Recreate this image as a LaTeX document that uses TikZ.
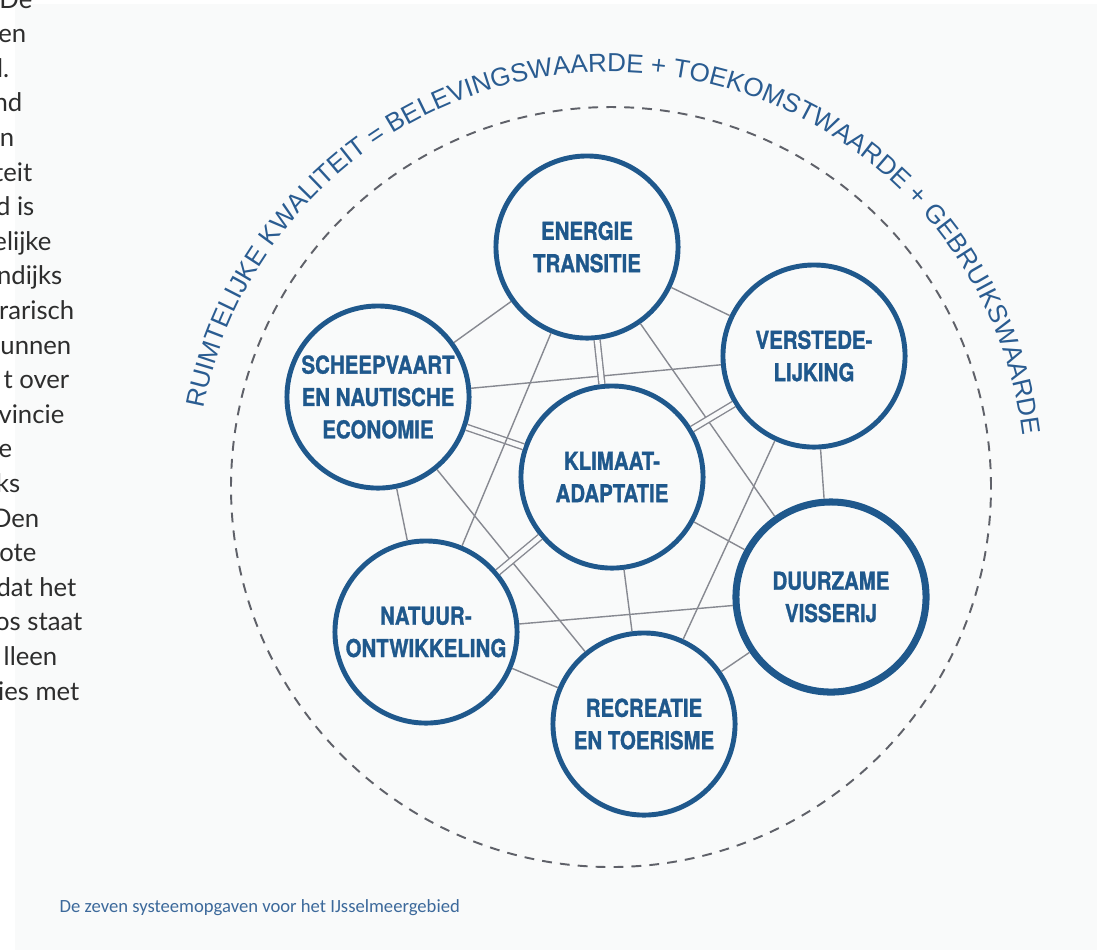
\documentclass[tikz,border=0pt]{standalone}
\usepackage{fontspec}
\setmainfont{Liberation Sans}
\newfontfamily\circfont[FakeStretch=0.83,FakeBold=1.2]{TeX Gyre Heros}
\newfontfamily\arcfont{Liberation Sans}
\newfontfamily\bodyfont{Lato}
\newfontfamily\capfont{Carlito}
\usetikzlibrary{decorations.text}
\definecolor{ringblue}{RGB}{31,88,140}
\definecolor{arcblue}{RGB}{42,92,145}
\definecolor{capblue}{RGB}{60,105,155}
\definecolor{linkgray}{RGB}{135,137,145}
\definecolor{ringgray}{RGB}{95,97,105}
\definecolor{paper}{RGB}{249,250,250}
\definecolor{inkgray}{RGB}{45,45,45}

\begin{document}
\begin{tikzpicture}[
  x=0.01cm, y=0.01cm,
  task/.style={
    circle, draw=ringblue, line width=1.4pt, fill=paper,
    minimum size=1.82cm, inner sep=0pt, align=center, text=ringblue,
    font=\circfont\bfseries\fontsize{7}{9.2}\selectfont
  },
  link/.style={draw=linkgray, line width=0.4pt},
  twin/.style={link, double=paper, double distance=1.3pt},
  dashring/.style={draw=ringgray, line width=0.55pt, dash pattern=on 2.8pt off 2.3pt},
  frag/.style={anchor=base east, inner sep=0pt, text=inkgray,
    font=\bodyfont\fontsize{7.3}{9}\selectfont}
]
\useasboundingbox (0,0) rectangle (1097,-950);
\fill[white] (0,0) rectangle (1097,-950);
\fill[paper] (15,-4) rectangle (1097,-950);

% cut-off column of the page text
\begin{scope}
\clip (0,0) rectangle (1097,-950);
\foreach \txt/\xe [count=\i] in {De/33, en/27, l./10, nd/23, an/15, teit/33,
    d is/35, elijke/52, ndijks/63, rarisch/75, unnen/72, t over/70,
    vincie/65, e/13, ks/21, Den/40, ote/37, dat het/77, os staat/83,
    lleen/58, ies met/80}
{
  \pgfmathsetmacro{\yb}{-(8+34.6*(\i-1))}
  \node (frag\i) [frag] at (\xe,\yb) {\txt};
}
\end{scope}

% outer ring and its title
\coordinate (mid) at (611,-487);
\draw[dashring] (mid) circle[radius=380];
\path[decorate, decoration={text along path, text align=center,
    text={|\arcfont\fontsize{7.4}{9}\selectfont\color{arcblue}|RUIMTELIJKE KWALITEIT = BELEVINGSWAARDE + TOEKOMSTWAARDE + GEBRUIKSWAARDE}}]
  (mid) ++(175.15:415) arc[start angle=175.15, end angle=1.15, radius=415];

% the seven tasks
\node (energie) [task] at (587,-247) {ENERGIE\\TRANSITIE};
\node (verst) [task] at (814,-356) {VERSTEDE-\\LIJKING};
\node (scheep) [task] at (378,-397) {SCHEEPVAART\\EN NAUTISCHE\\ECONOMIE};
\node (klimaat) [task] at (612,-477) {KLIMAAT-\\ADAPTATIE};
\node (visserij) [task, line width=2pt, minimum size=1.9cm] at (831,-597) {DUURZAME\\VISSERIJ};
\node (natuur) [task] at (426,-632) {NATUUR-\\ONTWIKKELING};
\node (recreatie) [task] at (644,-724) {RECREATIE\\EN TOERISME};

\draw[link] (scheep) -- (energie);
\draw[link] (scheep) -- (verst);
\draw[twin] (scheep) -- (klimaat);
\draw[link] (scheep) -- (natuur);
\draw[link] (scheep) -- (recreatie);
\draw[link] (energie) -- (verst);
\draw[twin] (energie) -- (klimaat);
\draw[link] (energie) -- (natuur);
\draw[link] (energie) -- (visserij);
\draw[twin] (verst) -- (klimaat);
\draw[link] (verst) -- (visserij);
\draw[link] (verst) -- (recreatie);
\draw[twin] (klimaat) -- (natuur);
\draw[link] (klimaat) -- (visserij);
\draw[link] (klimaat) -- (recreatie);
\draw[link] (natuur) -- (visserij);
\draw[link] (natuur) -- (recreatie);
\draw[link] (recreatie) -- (visserij);

\node (caption) [anchor=base west, inner sep=0pt, text=capblue,
  font=\capfont\fontsize{5.3}{6}\selectfont] at (59,-912)
  {De zeven systeemopgaven voor het IJsselmeergebied};
\end{tikzpicture}
\end{document}
